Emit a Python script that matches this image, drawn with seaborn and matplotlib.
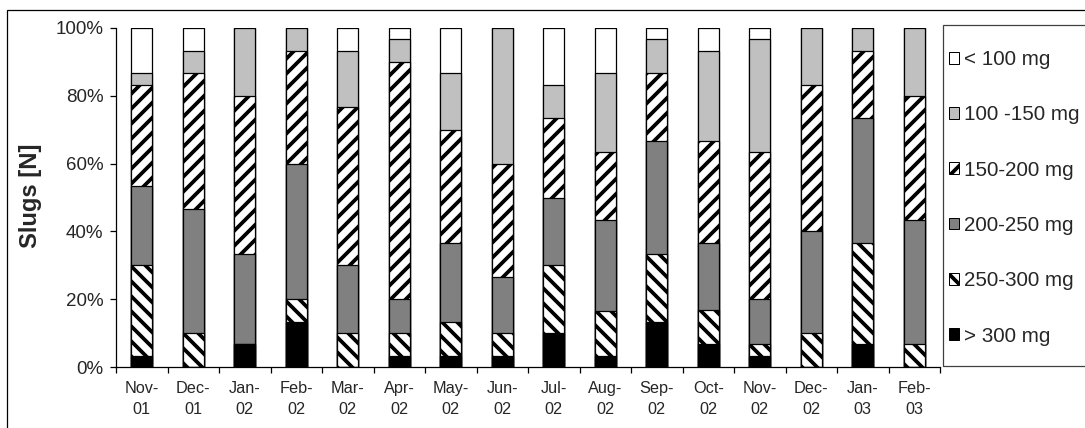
import numpy as np
import pandas as pd
import matplotlib
matplotlib.use("Agg")
import matplotlib.pyplot as plt
import seaborn as sns
from matplotlib.patches import Patch, Rectangle
from matplotlib.ticker import PercentFormatter, FixedLocator

#--------------------------------Data----------------------------#
months = ["Nov-\n01", "Dec-\n01", "Jan-\n02", "Feb-\n02", "Mar-\n02", "Apr-\n02",
          "May-\n02", "Jun-\n02", "Jul-\n02", "Aug-\n02", "Sep-\n02", "Oct-\n02",
          "Nov-\n02", "Dec-\n02", "Jan-\n03", "Feb-\n03"]

# share of slugs per weight class [%], bottom of the stack first
over_300 = [3.33, 0, 6.67, 13.33, 0, 3.33, 3.33, 3.33, 10.0, 3.33, 13.33, 6.67, 3.33, 0, 6.67, 0]
w250_300 = [26.67, 10.0, 0, 6.67, 10.0, 6.67, 10.0, 6.67, 20.0, 13.33, 20.0, 10.0, 3.33, 10.0, 30.0, 6.67]
w200_250 = [23.33, 36.67, 26.67, 40.0, 20.0, 10.0, 23.33, 16.67, 20.0, 26.67, 33.33, 20.0, 13.33, 30.0, 36.67, 36.67]
w150_200 = [30.0, 40.0, 46.67, 33.33, 46.67, 70.0, 33.33, 33.33, 23.33, 20.0, 20.0, 30.0, 43.33, 43.33, 20.0, 36.67]
w100_150 = [3.33, 6.67, 20.0, 6.67, 16.67, 6.67, 16.67, 40.0, 10.0, 23.33, 10.0, 26.67, 33.33, 16.67, 6.67, 20.0]
under_100 = [13.34, 6.66, 0, 0, 6.66, 3.33, 13.34, 0, 16.67, 13.34, 3.34, 6.66, 3.35, 0, 0, 0]

labels = ["> 300 mg", "250-300 mg", "200-250 mg", "150-200 mg", "100 -150 mg", "< 100 mg"]
colors = ["black", "white", "#808080", "white", "#c0c0c0", "white"]
hatches = [None, "\\\\", None, "//", None, None]

df = pd.DataFrame({"month": months, labels[0]: over_300, labels[1]: w250_300,
                   labels[2]: w200_250, labels[3]: w150_200, labels[4]: w100_150,
                   labels[5]: under_100})
cum = df[labels].cumsum(axis=1)
cum["month"] = df["month"]

#--------------------------------Plot----------------------------#
sns.set_style("ticks")
plt.rcParams["font.family"] = ["Liberation Sans", "DejaVu Sans"]
plt.rcParams["hatch.linewidth"] = 3.0

DPI = 90
W, H = 1085, 428
fig = plt.figure(figsize=(W / DPI, H / DPI), dpi=DPI)
ax = fig.add_axes([116 / W, 1 - 367 / H, 824 / W, 339 / H])

# draw the tallest cumulative bar first, smaller ones on top
for i in range(len(labels) - 1, -1, -1):
    sns.barplot(data=cum, x="month", y=labels[i], order=months, ax=ax,
                color=colors[i], saturation=1, width=0.41, errorbar=None,
                edgecolor="black", linewidth=1.0, hatch=hatches[i])

ax.set_ylim(0, 100)
ax.set_xlim(-0.5, len(months) - 0.5)
ax.set_yticks(np.arange(0, 101, 20))
ax.yaxis.set_major_formatter(PercentFormatter(decimals=0))
ax.tick_params(axis="y", direction="out", length=5, width=1, labelsize=15, pad=5, color="black")
ax.tick_params(axis="x", which="major", length=0, labelsize=13, pad=11)
ax.xaxis.set_minor_locator(FixedLocator(np.arange(-0.5, len(months), 1)))
ax.tick_params(axis="x", which="minor", direction="out", length=5, width=1, color="black")
for t in ax.get_xticklabels():
    t.set_linespacing(1.55)
ax.set_xlabel("")
ax.set_ylabel("")
for s in ["top", "right"]:
    ax.spines[s].set_visible(False)
for s in ["left", "bottom"]:
    ax.spines[s].set_color("black")
    ax.spines[s].set_linewidth(1)

fig.text(31 / W, 1 - 196 / H, "Slugs [N]", rotation=90, ha="center", va="center",
         fontsize=19, fontweight="bold")

# legend box, open to the right edge
fig.add_artist(Rectangle((943 / W, 1 - 366 / H), 0.3, 341 / H, transform=fig.transFigure,
                         fill=False, edgecolor="#404040", linewidth=1))
handles = [Patch(facecolor=colors[i], edgecolor="black", hatch=hatches[i], linewidth=0.8,
                 label=labels[i]) for i in range(len(labels) - 1, -1, -1)]
leg = fig.legend(handles=handles, loc="upper left",
                 bbox_to_anchor=(949 / W, 1 - 50 / H), borderaxespad=0, borderpad=0,
                 fontsize=16.5, handlelength=0.5, handleheight=0.5,
                 handletextpad=0.25, labelspacing=1.76, frameon=False)

fig.add_artist(Rectangle((7 / W, -0.1), 1.2, 1.1 - 10 / H, transform=fig.transFigure,
                         fill=False, edgecolor="black", linewidth=1))

fig.savefig("out.png", dpi=DPI)
